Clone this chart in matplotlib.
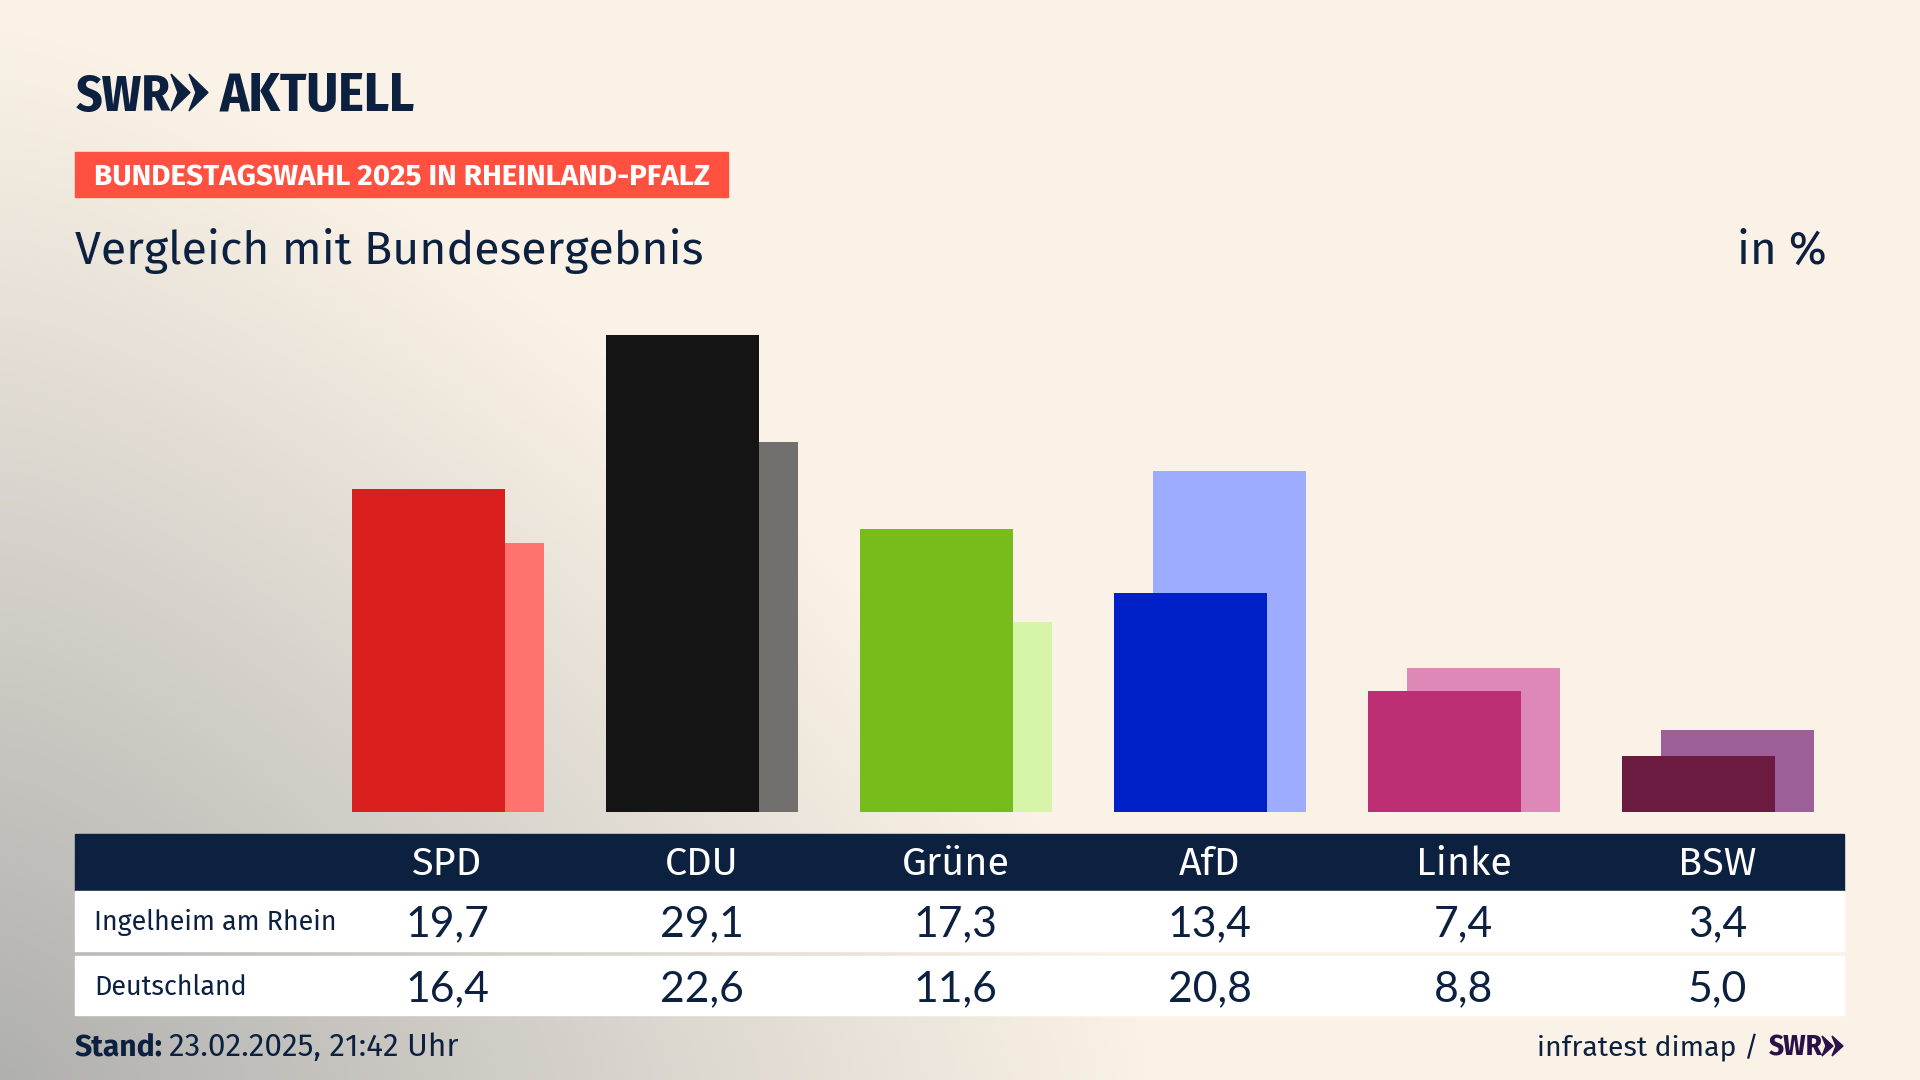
import numpy as np
import matplotlib
matplotlib.use("Agg")
import matplotlib.pyplot as plt
from matplotlib.patches import Polygon, Rectangle

parteien = ["SPD", "CDU", "Grüne", "AfD", "Linke", "BSW"]
ingelheim = [19.7, 29.1, 17.3, 13.4, 7.4, 3.4]
deutschland = [16.4, 22.6, 11.6, 20.8, 8.8, 5.0]
farben_vorne = ["#d9201e", "#141414", "#78bc1b", "#0020c8", "#bd2f75", "#6b1a40"]
farben_hinten = ["#ff736e", "#72706e", "#d6f5a8", "#9eacff", "#de88b8", "#9c5f98"]

NAVY = "#0c2040"
SCHMAL = ["Fira Sans Condensed", "Lato"]
plt.rcParams["font.family"] = ["Fira Sans", "Lato"]

fig = plt.figure(figsize=(19.2, 10.8), dpi=100)

# Hintergrund und Seitenelemente in Pixelkoordinaten
seite = fig.add_axes([0, 0, 1, 1])
seite.set_xlim(0, 1920)
seite.set_ylim(1080, 0)
seite.axis("off")

yy, xx = np.mgrid[0:1080:270j, 0:1920:480j]
abstand = ((xx / 1150) ** 1.4 + ((1080 - yy) / 1050) ** 1.4) ** (1 / 1.4)
t = np.clip(abstand, 0, 1)
creme = np.array([250, 242, 230]) / 255
grau = np.array([176, 176, 174]) / 255
bild = grau + (creme - grau) * t[..., None]
seite.imshow(bild, extent=(0, 1920, 1080, 0), aspect="auto", zorder=0)

# Logo
seite.text(76, 111, "SWR", fontsize=37, fontweight="bold", family=SCHMAL, color=NAVY, va="baseline")
for x0 in (171, 189):
    seite.add_patch(Polygon([(x0, 74), (x0 + 19, 92.5), (x0, 111), (x0 + 7, 92.5)], color=NAVY))
seite.text(220, 111, "AKTUELL", fontsize=39, fontweight="bold", family=SCHMAL, color=NAVY, va="baseline")

# Dachzeile und Titel
seite.add_patch(Rectangle((75, 152), 653, 44.5, color="#ff5040"))
seite.text(94, 185, "BUNDESTAGSWAHL 2025 IN RHEINLAND-PFALZ", fontsize=21.4, fontweight="bold",
           color="white", va="baseline")
seite.text(75, 264, "Vergleich mit Bundesergebnis", fontsize=33.5, color=NAVY, va="baseline")
seite.text(1827, 264, "in %", fontsize=33, color=NAVY, va="baseline", ha="right")

# Balken
ax = fig.add_axes([75 / 1920, (1080 - 812) / 1080, 1769 / 1920, 512 / 1080])
ax.patch.set_alpha(0)
x = np.arange(len(parteien))
ax.bar(x + 0.0795, deutschland, width=0.603, color=farben_hinten, zorder=2)
ax.bar(x - 0.0745, ingelheim, width=0.601, color=farben_vorne, zorder=3)
ax.set_xlim(-1.467, 5.498)
ax.set_ylim(0, 512 / 16.38)
ax.axis("off")

# Tabelle
seite.add_patch(Rectangle((75, 834), 1769, 57, color=NAVY))
seite.add_patch(Rectangle((75, 891), 1769, 60, color="white"))
seite.add_patch(Rectangle((75, 956), 1769, 59, color="white"))
spalten_x = 447.5 + 254 * x
for xp, partei, wert_a, wert_b in zip(spalten_x, parteien, ingelheim, deutschland):
    seite.text(xp, 875, partei, fontsize=28.5, color="white", ha="center", va="baseline")
    seite.text(xp, 936, f"{wert_a:.1f}".replace(".", ","), fontsize=30.8, family="Lato", color=NAVY, ha="center", va="baseline")
    seite.text(xp, 1001, f"{wert_b:.1f}".replace(".", ","), fontsize=30.8, family="Lato", color=NAVY, ha="center", va="baseline")
seite.text(94, 930, "Ingelheim am Rhein", fontsize=19.4, color=NAVY, va="baseline")
seite.text(94, 995, "Deutschland", fontsize=19.4, color=NAVY, va="baseline")

# Fusszeile
seite.text(75, 1056, "Stand:", fontsize=21.7, fontweight="bold", color=NAVY, va="baseline")
seite.text(169, 1056, "23.02.2025, 21:42 Uhr", fontsize=22.7, color=NAVY, va="baseline")
seite.text(1759, 1056, "infratest dimap /", fontsize=20.5, color=NAVY, va="baseline", ha="right")
seite.text(1769, 1056, "SWR", fontsize=21, fontweight="bold", family=SCHMAL, color="#2a1248", va="baseline")
for x0 in (1822, 1832):
    seite.add_patch(Polygon([(x0, 1036), (x0 + 11, 1046), (x0, 1056), (x0 + 4, 1046)], color="#2a1248"))

fig.savefig("out.png", dpi=100)
